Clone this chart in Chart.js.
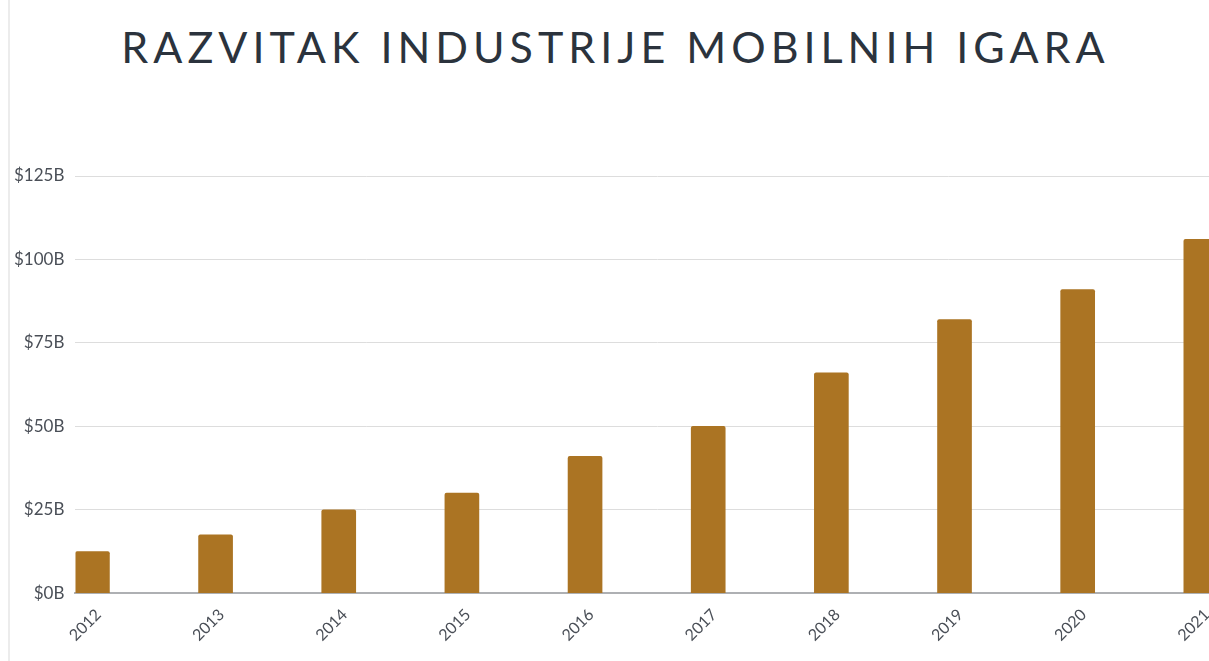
<!DOCTYPE html>
<html>
<head>
<meta charset="utf-8">
<script src="https://cdn.jsdelivr.net/npm/chart.js@4.4.0/dist/chart.umd.min.js"></script>
<style>
  html, body { margin: 0; padding: 0; background: #fff; overflow: hidden; }
  body { width: 1209px; height: 661px; position: relative; }
  .edge { position: absolute; left: 8px; top: 0; width: 0; height: 661px; border-left: 2px solid #ececec; }
  h1 {
    position: absolute; top: 21px; left: 22px; width: 1187px; margin: 0;
    text-align: center; font-family: Lato, sans-serif; font-weight: 400;
    font-size: 43px; letter-spacing: 5px; color: #2b333d;
  }
  .wrap { position: absolute; left: 0; top: 0; width: 1240px; height: 661px; }
</style>
</head>
<body>
<div class="edge"></div>
<h1>RAZVITAK INDUSTRIJE MOBILNIH IGARA</h1>
<div class="wrap"><canvas id="gamesChart"></canvas></div>
<script>
// Podaci - prihod industrije mobilnih igara (milijarde USD)
const years = ['2012', '2013', '2014', '2015', '2016', '2017', '2018', '2019', '2020', '2021'];
const revenue = [12.5, 17.5, 25, 30, 41, 50, 66, 82, 91, 106];
const yTicks = [0, 25, 50, 75, 100, 125];

const barColor = '#ab7423';

const ctx = document.getElementById('gamesChart').getContext('2d');
new Chart(ctx, {
  type: 'bar',
  data: {
    datasets: [{
      label: 'Prihod',
      data: years.map((y, i) => ({ x: i, y: revenue[i] })),
      backgroundColor: barColor,
      borderRadius: { topLeft: 2, topRight: 2 },
      borderSkipped: 'bottom',
      barThickness: 34
    }]
  },
  options: {
    responsive: true,
    maintainAspectRatio: false,
    animation: false,
    layout: { padding: { left: 3, top: 176, bottom: 12, right: 0 } },
    plugins: {
      legend: { display: false },
      tooltip: { enabled: false }
    },
    scales: {
      x: {
        type: 'linear',
        offset: false,
        min: -0.138,
        max: 9.318,
        grid: { display: false, offset: false },
        border: { display: true, color: '#aeb0b3', width: 2 },
        afterBuildTicks: (scale) => {
          scale.ticks = years.map((_, i) => ({ value: i }));
        },
        ticks: {
          autoSkip: false,
          maxRotation: 45,
          minRotation: 45,
          padding: 4,
          labelOffset: 6,
          color: '#4a4f57',
          font: { family: 'Lato', size: 16 },
          callback: (value) => years[value]
        }
      },
      y: {
        min: 0,
        max: 125,
        border: { display: false },
        grid: { color: '#dddddd', lineWidth: 1, drawTicks: false },
        afterBuildTicks: (scale) => {
          scale.ticks = yTicks.map(v => ({ value: v }));
        },
        ticks: {
          padding: 11,
          color: '#4a4f57',
          font: { family: 'Lato', size: 17 },
          callback: (value) => '$' + value + 'B'
        }
      }
    }
  }
});
</script>
</body>
</html>
